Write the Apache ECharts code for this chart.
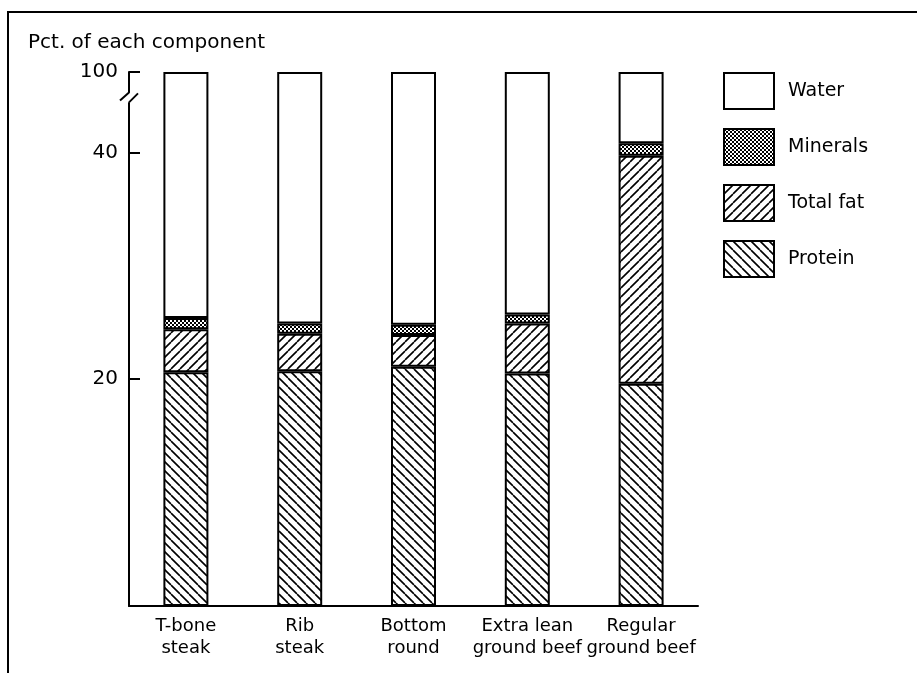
<!DOCTYPE html>
<html>
<head>
<meta charset="utf-8">
<script src="https://cdn.jsdelivr.net/npm/echarts@6/dist/echarts.min.js"></script>
<style>
html,body{margin:0;padding:0;background:#fff;}
#chart{width:917px;height:673px;}
</style>
</head>
<body>
<div id="chart"></div>
<script>
// ---- data ----
var categories = ['T-bone\nsteak', 'Rib\nsteak', 'Bottom\nround', 'Extra lean\nground beef', 'Regular\nground beef'];
var protein  = [20.6, 20.7, 21.1, 20.5, 19.6];
var totalFat = [3.8, 3.3, 2.8, 4.4, 20.1];
var minerals = [1.0, 0.9, 0.9, 0.8, 1.1];
var water    = [74.6, 75.1, 75.2, 74.3, 59.2];
var yTickLabels = [20, 40, 100];
var yTicks = [0, 20, 40, 100];
var breakStart = 44.4, breakEnd = 98.2;

var FONT = 'DejaVu Sans';

function hatch(dir) {
  var s = 9;
  var c = document.createElement('canvas');
  c.width = s; c.height = s;
  var g = c.getContext('2d');
  g.fillStyle = '#fff'; g.fillRect(0, 0, s, s);
  g.strokeStyle = '#000'; g.lineWidth = 1.6;
  g.beginPath();
  if (dir === 'fwd') {
    for (var k = -1; k <= 1; k++) { g.moveTo(k * s, s); g.lineTo(k * s + s, 0); }
  } else {
    for (var k2 = -1; k2 <= 1; k2++) { g.moveTo(k2 * s, 0); g.lineTo(k2 * s + s, s); }
  }
  g.stroke();
  return c;
}
function dots() {
  var s = 4;
  var c = document.createElement('canvas');
  c.width = s; c.height = s;
  var g = c.getContext('2d');
  g.fillStyle = '#fff'; g.fillRect(0, 0, s, s);
  g.fillStyle = '#000';
  g.fillRect(0, 0, 2, 2); g.fillRect(2, 2, 2, 2);
  return c;
}

var proteinPat = { image: hatch('back'), repeat: 'repeat' };
var fatPat = { image: hatch('fwd'), repeat: 'repeat' };
var minPat = { image: dots(), repeat: 'repeat' };

function bar(name, data, color) {
  return {
    name: name, type: 'bar', stack: 'all', data: data, barWidth: 45,
    itemStyle: { color: color, borderColor: '#000', borderWidth: 2 },
    emphasis: { disabled: true }, animation: false
  };
}

var chart = echarts.init(document.getElementById('chart'), null, { renderer: 'canvas' });
var option = {
  animation: false,
  backgroundColor: '#fff',
  textStyle: { fontFamily: FONT },
  title: {
    text: 'Pct. of each component', left: 23, top: 28,
    textStyle: { fontFamily: FONT, fontSize: 20, fontWeight: 'normal', color: '#000' }
  },
  legend: {
    orient: 'vertical', left: 718, top: 67,
    itemWidth: 50, itemHeight: 36, itemGap: 18,
    icon: 'rect',
    data: ['Water', 'Minerals', 'Total fat', 'Protein'],
    textStyle: { fontFamily: FONT, fontSize: 19, color: '#000', padding: [0, 0, 0, 9] },
    selectedMode: false
  },
  grid: { left: 129, width: 569, top: 72, bottom: 67, containLabel: false },
  xAxis: {
    type: 'category', data: categories,
    axisLine: { lineStyle: { color: '#000', width: 2 } },
    axisTick: { show: false },
    axisLabel: { color: '#000', fontFamily: FONT, fontSize: 18, lineHeight: 22, margin: 9, interval: 0 }
  },
  yAxis: {
    type: 'value', min: 0, max: 100, interval: 20,
    breaks: [{ start: breakStart, end: breakEnd, gap: 0.88 }],
    breakArea: { show: false },
    axisLine: { show: true, lineStyle: { color: '#000', width: 2 } },
    axisTick: { show: true, inside: true, length: 11, customValues: yTicks, lineStyle: { color: '#000', width: 2 } },
    axisLabel: {
      color: '#000', fontFamily: FONT, fontSize: 20, margin: 11,
      customValues: yTickLabels,
      formatter: function (v) { return String(Math.round(v)); }
    },
    splitLine: { show: false }
  },
  series: [
    bar('Protein', protein, proteinPat),
    bar('Total fat', totalFat, fatPat),
    bar('Minerals', minerals, minPat),
    bar('Water', water, '#fff')
  ]
};
chart.setOption(option);

// decorative frame and axis break symbol
var x0 = chart.convertToPixel({ xAxisIndex: 0 }, 0) - 113.8 / 2;
var yS = chart.convertToPixel({ yAxisIndex: 0 }, breakStart);
var yE = chart.convertToPixel({ yAxisIndex: 0 }, breakEnd);
chart.setOption({
  graphic: [
    { type: 'polyline', shape: { points: [[917, 12], [8, 12], [8, 673]] }, style: { stroke: '#000', lineWidth: 2, fill: null }, silent: true },
    { type: 'rect', shape: { x: x0 - 3, y: yE + 0.5, width: 6, height: yS - yE - 1 }, style: { fill: '#fff' }, z: 100, silent: true },
    { type: 'line', shape: { x1: x0, y1: yE, x2: x0 - 9, y2: yE + 8 }, style: { stroke: '#000', lineWidth: 2 }, z: 101, silent: true },
    { type: 'line', shape: { x1: x0, y1: yS, x2: x0 + 9, y2: yS - 9 }, style: { stroke: '#000', lineWidth: 2 }, z: 101, silent: true }
  ]
});
</script>
</body>
</html>
